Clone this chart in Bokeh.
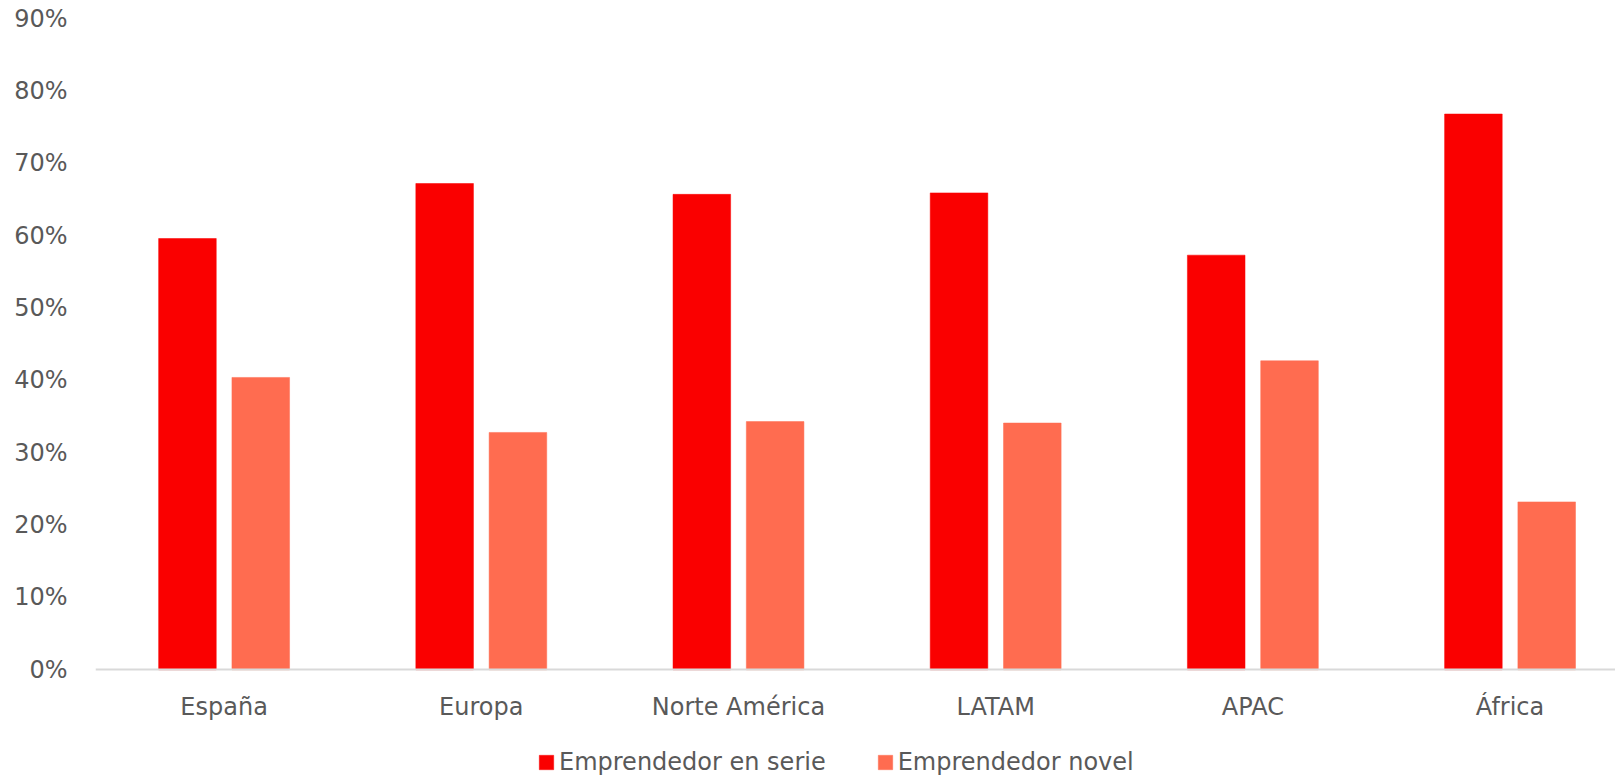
from bokeh.plotting import figure
from bokeh.models import (ColumnDataSource, Range1d, FixedTicker, NumeralTickFormatter,
                          Legend, LegendItem)
from bokeh.embed import file_html
from bokeh.resources import INLINE

categories = ["España", "Europa", "Norte América", "LATAM", "APAC", "África"]
serie = [0.596, 0.672, 0.657, 0.659, 0.573, 0.768]
novel = [0.404, 0.328, 0.343, 0.341, 0.427, 0.232]
y_ticks = [0.0, 0.1, 0.2, 0.3, 0.4, 0.5, 0.6, 0.7, 0.8, 0.9]

RED = "#FA0000"
SALMON = "#FF6C50"
TEXT = "#595959"
FONT = "DejaVu Sans"
FSIZE = "24px"

centers = [i + 0.5 for i in range(len(categories))]
offset = 0.1425
bw = 0.224

src = ColumnDataSource(dict(
    xs=[c - offset for c in centers],
    xn=[c + offset for c in centers],
    serie=serie,
    novel=novel,
))

# frame spans the full height below the axis so the legend can sit inside it
p = figure(width=1615, height=777, output_backend="svg", toolbar_location=None,
           x_range=Range1d(0, 5.91), y_range=Range1d(-0.1488, 0.9),
           min_border_left=95, min_border_right=0, min_border_top=18, min_border_bottom=0)
p.outline_line_color = None
p.background_fill_color = "white"
p.border_fill_color = "white"

r1 = p.vbar(x="xs", top="serie", width=bw, source=src, fill_color=RED, line_color=RED, line_width=0.5)
r2 = p.vbar(x="xn", top="novel", width=bw, source=src, fill_color=SALMON, line_color=SALMON, line_width=0.5)

p.xgrid.grid_line_color = None
p.ygrid.grid_line_color = None

xa = p.xaxis[0]
xa.fixed_location = 0
xa.ticker = FixedTicker(ticks=centers)
xa.major_label_overrides = {c: n for c, n in zip(centers, categories)}
xa.axis_line_color = "#D9D9D9"
xa.axis_line_width = 2
xa.major_tick_line_color = None
xa.minor_tick_line_color = None
xa.major_label_standoff = 17
xa.major_label_text_font = FONT
xa.major_label_text_font_size = FSIZE
xa.major_label_text_color = TEXT

ya = p.yaxis[0]
ya.ticker = FixedTicker(ticks=y_ticks)
ya.formatter = NumeralTickFormatter(format="0%")
ya.axis_line_color = None
ya.major_tick_line_color = None
ya.minor_tick_line_color = None
ya.major_label_standoff = 22
ya.major_label_text_font = FONT
ya.major_label_text_font_size = FSIZE
ya.major_label_text_color = TEXT

legend = Legend(items=[LegendItem(label="Emprendedor en serie", renderers=[r1]),
                       LegendItem(label="Emprendedor novel", renderers=[r2])],
                orientation="horizontal", location=(442, 1),
                glyph_width=18, glyph_height=18, label_standoff=4, spacing=50,
                padding=0, margin=0, border_line_color=None, background_fill_alpha=0,
                label_text_font=FONT, label_text_font_size=FSIZE, label_text_color=TEXT)
p.add_layout(legend)

open("out.html", "w").write(file_html(p, INLINE))
